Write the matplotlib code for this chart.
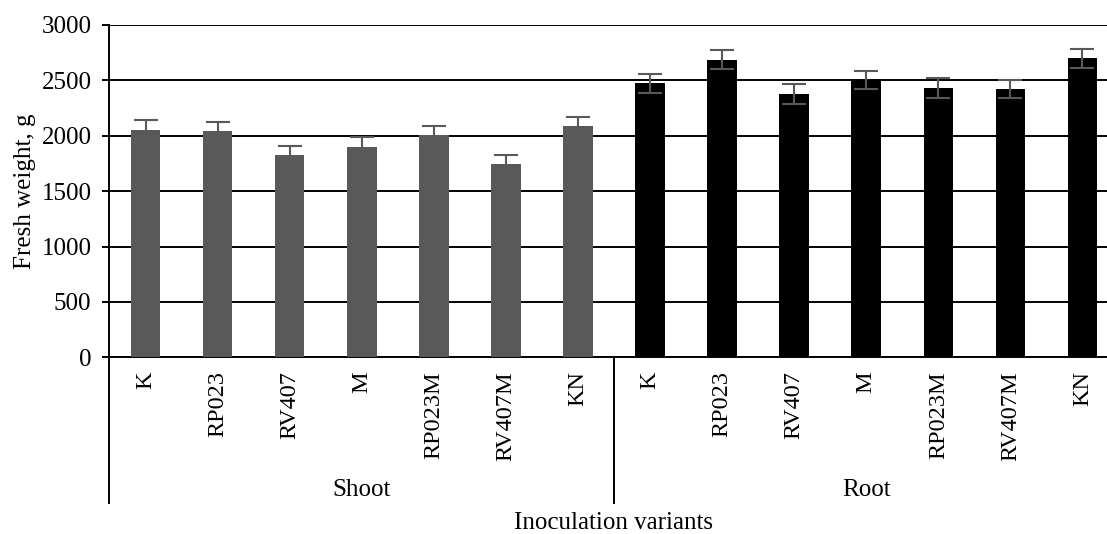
import matplotlib
matplotlib.use("Agg")
import matplotlib.pyplot as plt
import numpy as np
from matplotlib.transforms import blended_transform_factory

# inoculation variants, same order in both groups
variants = ["K", "RP023", "RV407", "M", "RP023M", "RV407M", "KN"]
groups = ["Shoot", "Root"]

# fresh weight means (g) and error bars
shoot_mean = [2050, 2040, 1825, 1900, 2005, 1745, 2085]
shoot_err = [88, 85, 85, 85, 85, 85, 88]
root_mean = [2475, 2685, 2375, 2500, 2430, 2420, 2700]
root_err = [85, 85, 88, 82, 90, 82, 85]

plt.rcParams["font.family"] = ["Liberation Serif", "DejaVu Serif"]

fig = plt.figure(figsize=(11.07, 5.34), dpi=100)
ax = fig.add_axes([0.0989, 0.3309, 0.9115, 0.6223])

n = len(variants)
x_shoot = np.arange(n)
x_root = np.arange(n) + n
width = 0.41
err_kw = dict(ecolor="#595959", elinewidth=1.5, capsize=8.5, capthick=1.5)

ax.bar(x_shoot, shoot_mean, width, yerr=shoot_err, color="#595959",
       error_kw=err_kw, zorder=3)
ax.bar(x_root, root_mean, width, yerr=root_err, color="black",
       error_kw=err_kw, zorder=3)

ax.set_xlim(-0.5, 2 * n - 0.5)
ax.set_ylim(0, 3000)
ax.set_yticks(np.arange(0, 3001, 500))
ax.grid(axis="y", color="black", lw=1.4, zorder=0)
ax.tick_params(axis="y", length=5, width=1.4, pad=8, labelsize=18)

ax.set_xticks(np.concatenate([x_shoot, x_root]))
ax.set_xticklabels(variants + variants, rotation=90, fontsize=17.5, va="top")
ax.tick_params(axis="x", length=0, pad=10)

for side in ("top", "right"):
    ax.spines[side].set_visible(False)
for side in ("left", "bottom"):
    ax.spines[side].set_linewidth(1.4)

# group separators below the category axis
trans = blended_transform_factory(ax.transData, ax.transAxes)
for xs in (-0.5, n - 0.5):
    ax.plot([xs, xs], [0, -0.438], color="black", lw=1.4,
            transform=trans, clip_on=False)
for i, g in enumerate(groups):
    ax.text(i * n + (n - 1) / 2, -0.40, g, transform=trans,
            ha="center", va="center", fontsize=18)

ax.text((2 * n - 1) / 2, -0.50, "Inoculation variants", transform=trans,
        ha="center", va="center", fontsize=18)
ax.set_ylabel("Fresh weight, g", fontsize=18, labelpad=4)

fig.savefig("out.png", dpi=100)
